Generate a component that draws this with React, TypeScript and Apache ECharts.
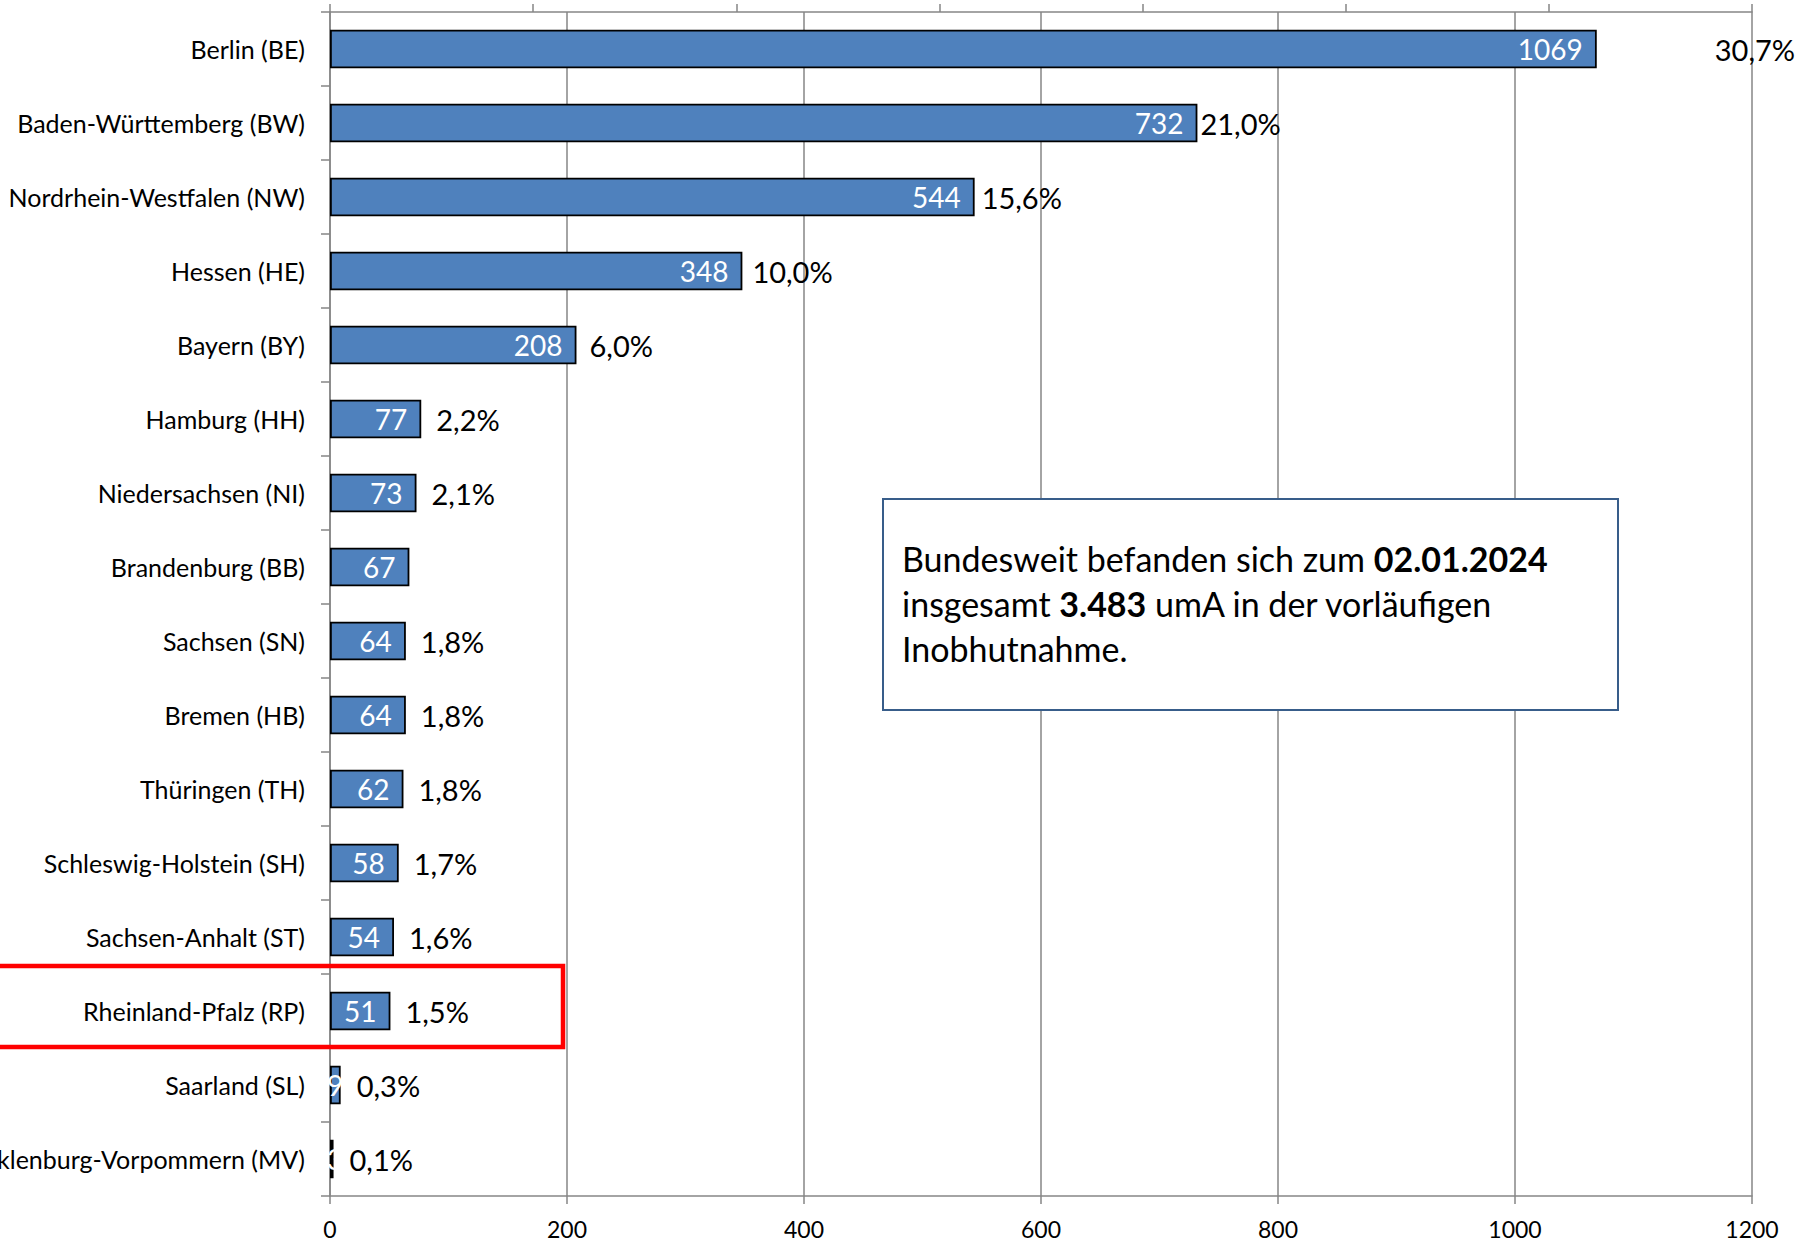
import React, { useEffect, useRef } from "react";
import * as echarts from "echarts";

const categories = [
  "Berlin (BE)",
  "Baden-Württemberg (BW)",
  "Nordrhein-Westfalen (NW)",
  "Hessen (HE)",
  "Bayern (BY)",
  "Hamburg (HH)",
  "Niedersachsen (NI)",
  "Brandenburg (BB)",
  "Sachsen (SN)",
  "Bremen (HB)",
  "Thüringen (TH)",
  "Schleswig-Holstein (SH)",
  "Sachsen-Anhalt (ST)",
  "Rheinland-Pfalz (RP)",
  "Saarland (SL)",
  "Mecklenburg-Vorpommern (MV)",
];
const values = [1069, 732, 544, 348, 208, 77, 73, 67, 64, 64, 62, 58, 54, 51, 9, 3];
const shares = ["30,7%", "21,0%", "15,6%", "10,0%", "6,0%", "2,2%", "2,1%", "", "1,8%", "1,8%", "1,8%", "1,7%", "1,6%", "1,5%", "0,3%", "0,1%"];
const xTicks = { min: 0, max: 1200, interval: 200 };
const noteDate = "02.01.2024";
const noteTotal = "3.483";

// label gap (px) between bar end and share label, as placed in the original
const shareGap = [118, 3, 7, 10, 13, 15, 15, 15, 15, 15, 15, 15, 15, 15, 16, 16];

const FONT = "Lato";

export default function App() {
  const ref = useRef<HTMLDivElement>(null);
  useEffect(() => {
    if (!ref.current) return;
    const chart = echarts.init(ref.current, undefined, { renderer: "svg" });
    const axisGray = "#868686";
    chart.setOption({
      animation: false,
      backgroundColor: "#ffffff",
      textStyle: { fontFamily: FONT },
      grid: {
        left: 330,
        right: 62,
        top: 12,
        bottom: 47,
        containLabel: false,
        outerBoundsMode: "none",
      },
      xAxis: [
        {
          type: "value",
          position: "bottom",
          min: xTicks.min,
          max: xTicks.max,
          interval: xTicks.interval,
          axisLine: { show: true, lineStyle: { color: axisGray, width: 1.5 } },
          axisTick: { show: true, length: 8, lineStyle: { color: axisGray, width: 1.5 } },
          splitLine: { show: true, lineStyle: { color: axisGray, width: 1.5 } },
          axisLabel: {
            color: "#000",
            fontSize: 23,
            fontFamily: FONT,
            margin: 21,
            formatter: (v: number) => String(v),
          },
        },
        {
          type: "value",
          position: "top",
          min: 0,
          max: 7,
          interval: 1,
          axisLine: { show: true, lineStyle: { color: axisGray, width: 1.5 } },
          axisTick: { show: true, length: 8, lineStyle: { color: axisGray, width: 1.5 } },
          splitLine: { show: false },
          axisLabel: { show: false },
        },
      ],
      yAxis: {
        type: "category",
        inverse: true,
        data: categories,
        axisLine: { show: true, lineStyle: { color: axisGray, width: 1.5 } },
        axisTick: { show: true, length: 9, lineStyle: { color: axisGray, width: 1.5 } },
        axisLabel: { color: "#000", fontSize: 25, fontFamily: FONT, margin: 25 },
      },
      series: [
        {
          type: "bar",
          xAxisIndex: 0,
          data: values.map((v) =>
            v < 20
              ? { value: v, label: { position: "insideLeft", distance: -3 } }
              : v
          ),
          barWidth: "52%",
          itemStyle: { color: "#4F81BD", borderColor: "#000", borderWidth: 1.8 },
          label: {
            show: true,
            position: "insideRight",
            distance: 14,
            color: "#fff",
            fontSize: 28,
            fontFamily: FONT,
          },
        },
        {
          type: "bar",
          xAxisIndex: 0,
          barGap: "-100%",
          barWidth: "52%",
          silent: true,
          data: values.map((v, i) => ({
            value: v,
            label: { distance: shareGap[i] },
          })),
          itemStyle: { color: "transparent" },
          label: {
            show: true,
            position: "right",
            color: "#000",
            fontSize: 29,
            fontFamily: FONT,
            formatter: (p: any) => shares[p.dataIndex],
          },
        },
      ],
      graphic: [
        {
          type: "rect",
          z: 100,
          shape: { x: 883, y: 499, width: 735, height: 211 },
          style: { fill: "#fff", stroke: "#385D8A", lineWidth: 2 },
        },
        {
          type: "text",
          z: 101,
          x: 902,
          y: 536,
          style: {
            text:
              "{n|Bundesweit befanden sich zum }{b|" + noteDate + "}\n{n|insgesamt }{b|" + noteTotal + "}{n| umA in der vorläufigen}\n{n|Inobhutnahme.}",
            rich: {
              n: { fontSize: 34, fontFamily: FONT, fill: "#000", lineHeight: 45 },
              b: { fontSize: 34, fontFamily: FONT, fontWeight: "bold", fill: "#000", lineHeight: 45 },
            },
            fill: "#000",
          },
        },
        {
          type: "rect",
          z: 100,
          shape: { x: -10, y: 966, width: 573, height: 81 },
          style: { fill: "none", stroke: "#FF0000", lineWidth: 4.5 },
        },
      ],
    });
    return () => chart.dispose();
  }, []);
  return (
    <div
      ref={ref}
      style={{ position: "absolute", left: 0, top: 0, width: 1814, height: 1243 }}
    />
  );
}
